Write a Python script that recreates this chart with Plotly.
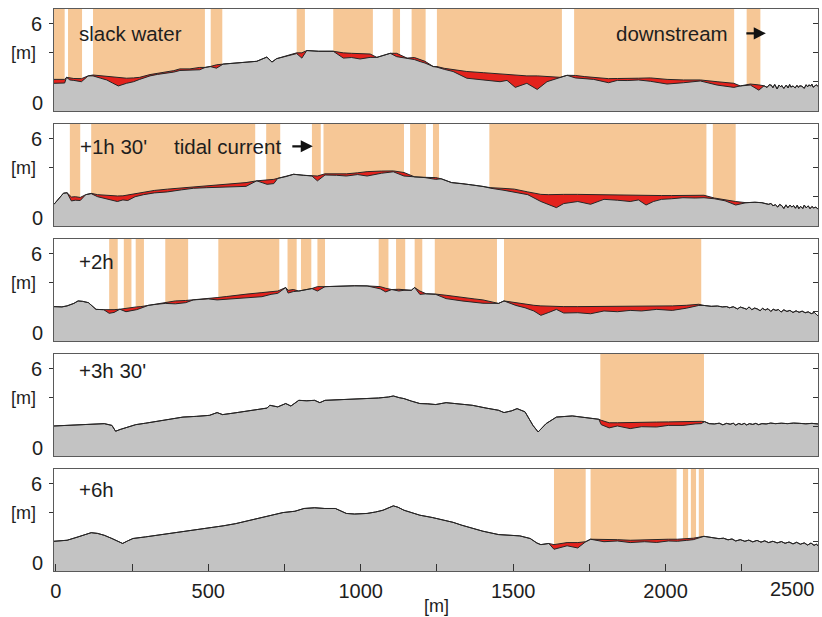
import plotly.graph_objects as go

# ---------------------------------------------------------------------------
# Longitudinal bed profiles at five tidal stages.
# Each panel: stations along the channel [m], bed elevation [m] and the
# reference surface above it (None where it coincides with the bed).
# Bands mark the reaches highlighted in orange.
# ---------------------------------------------------------------------------

X_RANGE = [-6, 2500]
Y_RANGE = [0, 7]
X_TICKS = [0, 250, 500, 750, 1000, 1250, 1500, 1750, 2000, 2250, 2500]
X_TICK_TEXT = ["0", "", "500", "", "1000", "", "1500", "", "2000", "", ""]
Y_TICKS_LEFT = [4, 6]
Y_TICK_TEXT_LEFT = ["", "6"]
Y_TICKS_RIGHT = [2, 4, 6]

P1_X = [-6, 29, 35, 46, 59, 84, 106, 122, 147, 167,
        186, 205, 232, 255, 275, 309, 333, 364, 387, 407,
        440, 472, 490, 506, 527, 549, 578, 604, 632, 659,
        692, 709, 724, 750, 768, 790, 807, 823, 862, 910,
        943, 970, 998, 1031, 1053, 1078, 1097, 1118, 1152, 1176,
        1195, 1211, 1238, 1250, 1274, 1303, 1348, 1402, 1457, 1480,
        1507, 1545, 1579, 1611, 1654, 1677, 1704, 1735, 1764, 1813,
        1842, 1874, 1911, 1950, 2005, 2059, 2114, 2169, 2224, 2245,
        2278, 2306, 2323, 2333, 2340, 2347, 2352, 2358, 2366, 2372,
        2378, 2381, 2388, 2396, 2402, 2407, 2411, 2418, 2425, 2431,
        2436, 2440, 2447, 2455, 2461, 2466, 2470, 2476, 2480, 2484,
        2490, 2495, 2500]
P1_BED = [1.90, 1.92, 2.31, 2.13, 2.10, 2.01, 2.41, 2.41, 2.25, 2.13,
          1.92, 1.72, 1.90, 2.01, 2.17, 2.41, 2.51, 2.59, 2.67, 2.78,
          2.83, 2.83, 2.99, 3.05, 2.94, 3.22, 3.27, 3.33, 3.37, 3.41,
          3.70, 3.36, 3.59, 3.72, 3.86, 3.94, 3.63, 4.15, 4.10, 4.10,
          3.63, 3.67, 3.57, 3.68, 3.68, 3.81, 3.96, 3.73, 3.63, 3.53,
          3.39, 3.29, 3.05, 3.01, 2.86, 2.71, 2.25, 2.13, 2.01, 2.10,
          1.62, 1.90, 1.48, 2.01, 2.31, 2.45, 2.27, 2.20, 2.17, 1.94,
          2.10, 2.09, 2.13, 2.04, 1.85, 1.94, 2.06, 1.78, 1.62, 1.72,
          1.78, 1.43, 1.73, 1.62, 1.80, 1.77, 1.60, 1.82, 1.51, 1.78,
          1.66, 1.75, 1.55, 1.78, 1.58, 1.82, 1.64, 1.72, 1.58, 1.76,
          1.62, 1.73, 1.70, 1.56, 1.80, 1.66, 1.79, 1.72, 1.84, 1.63,
          1.75, 1.80, 1.68]
P1_TOP = [2.17, 2.17, None, 2.25, 2.23, 2.22, None, 2.47, 2.42, 2.36,
          2.32, 2.29, 2.25, 2.27, 2.31, 2.50, 2.59, 2.66, 2.77, 2.89,
          2.89, 2.99, None, None, 3.17, None, None, None, None, None,
          None, None, None, None, None, 3.99, 3.99, None, None, None,
          3.99, 3.96, 3.94, 3.91, None, None, None, 3.96, None, 3.67,
          3.53, 3.41, None, 3.05, 2.93, 2.83, 2.71, 2.63, 2.54, 2.51,
          2.47, 2.41, 2.41, 2.36, None, None, 2.44, 2.36, 2.31, 2.22,
          2.23, 2.22, 2.25, 2.27, 2.17, 2.13, 2.13, 2.01, 1.90, None,
          1.85, 1.79, None, None, None, None, None, None, None, None,
          None, None, None, None, None, None, None, None, None, None,
          None, None, None, None, None, None, None, None, None, None,
          None, None, None]
P1_BANDS = [(-6, 29), (40, 86), (122, 489), (508, 546), (790, 817),
            (910, 1040), (1105, 1129), (1167, 1213), (1250, 1660),
            (1700, 2225), (2266, 2311)]

P2_X = [-6, 12, 25, 37, 51, 64, 80, 98, 116, 137,
        159, 181, 202, 220, 236, 260, 288, 323, 366, 412,
        452, 495, 538, 578, 624, 659, 693, 715, 728, 755,
        780, 813, 840, 858, 883, 921, 953, 990, 1021, 1068,
        1107, 1142, 1177, 1211, 1246, 1264, 1298, 1333, 1366, 1401,
        1427, 1470, 1504, 1548, 1591, 1617, 1642, 1666, 1712, 1754,
        1798, 1842, 1884, 1911, 1936, 1960, 1987, 2019, 2057, 2097,
        2126, 2160, 2195, 2230, 2264, 2293, 2316, 2330, 2338, 2346,
        2352, 2360, 2368, 2374, 2381, 2388, 2395, 2401, 2408, 2414,
        2420, 2426, 2432, 2437, 2443, 2450, 2455, 2461, 2468, 2474,
        2480, 2486, 2493, 2500]
P2_BED = [1.49, 1.96, 2.25, 2.28, 1.72, 1.77, 1.75, 2.15, 2.22, 2.01,
          1.89, 1.77, 1.68, 1.79, 1.75, 2.01, 2.15, 2.27, 2.34, 2.48,
          2.59, 2.63, 2.67, 2.72, 2.72, 3.10, 2.86, 2.91, 3.27, 3.39,
          3.55, 3.48, 3.43, 3.10, 3.50, 3.48, 3.43, 3.53, 3.43, 3.62,
          3.72, 3.43, 3.37, 3.32, 3.20, 3.24, 2.98, 2.91, 2.82, 2.72,
          2.59, 2.45, 2.34, 2.15, 1.68, 1.49, 1.26, 1.54, 1.68, 1.49,
          1.83, 1.77, 1.68, 1.79, 1.44, 1.68, 1.83, 1.87, 1.94, 1.92,
          1.94, 1.87, 1.73, 1.44, 1.60, 1.63, 1.60, 1.52, 1.49, 1.55,
          1.39, 1.46, 1.30, 1.48, 1.40, 1.20, 1.45, 1.25, 1.44, 1.30,
          1.40, 1.22, 1.43, 1.19, 1.35, 1.20, 1.44, 1.25, 1.38, 1.19,
          1.34, 1.24, 1.30, 1.15]
P2_TOP = [None, None, None, None, 1.99, 2.01, 1.96, None, 2.24, 2.15,
          2.11, 2.09, 2.06, 2.07, 2.13, 2.25, 2.34, 2.44, 2.53, 2.61,
          2.67, 2.74, 2.82, 2.89, 2.98, None, 3.13, 3.20, None, None,
          None, None, 3.46, 3.43, 3.58, 3.58, 3.58, 3.65, 3.73, 3.77,
          3.78, 3.67, None, 3.34, 3.32, None, None, None, None, None,
          2.63, 2.58, 2.53, 2.34, 2.17, 2.15, 2.17, 2.17, 2.17, 2.15,
          2.13, 2.11, 2.09, 2.09, 2.09, 2.09, 2.09, 2.09, 2.09, 2.10,
          2.11, 1.92, 1.79, 1.68, None, None, None, None, None, None,
          None, None, None, None, None, None, None, None, None, None,
          None, None, None, None, None, None, None, None, None, None,
          None, None, None, None]
P2_BANDS = [(46, 80), (116, 654), (690, 736), (840, 869), (878, 1142),
            (1162, 1214), (1237, 1257), (1422, 2134), (2155, 2230)]

P3_X = [-6, 20, 37, 59, 73, 88, 107, 132, 157, 175,
        191, 210, 230, 245, 265, 279, 304, 331, 359, 392,
        426, 451, 469, 500, 529, 559, 590, 627, 676, 706,
        728, 754, 762, 779, 797, 840, 858, 883, 931, 980,
        1021, 1064, 1082, 1102, 1125, 1142, 1166, 1177, 1194, 1215,
        1246, 1280, 1332, 1372, 1401, 1452, 1470, 1509, 1539, 1568,
        1591, 1617, 1642, 1666, 1712, 1754, 1798, 1842, 1884, 1921,
        1971, 2022, 2068, 2109, 2126, 2150, 2170, 2186, 2200, 2210,
        2222, 2236, 2245, 2255, 2266, 2274, 2283, 2292, 2301, 2310,
        2318, 2327, 2336, 2345, 2353, 2362, 2370, 2379, 2388, 2398,
        2408, 2418, 2428, 2438, 2448, 2458, 2468, 2478, 2488, 2495,
        2500]
P3_BED = [2.36, 2.34, 2.41, 2.58, 2.75, 2.72, 2.63, 2.17, 2.15, 1.90,
          1.96, 2.18, 2.01, 2.06, 2.15, 2.25, 2.45, 2.52, 2.58, 2.55,
          2.63, 2.82, 2.86, 2.89, 2.82, 2.86, 2.91, 2.96, 3.04, 3.20,
          3.27, 3.67, 3.29, 3.39, 3.43, 3.60, 3.43, 3.73, 3.77, 3.79,
          3.78, 3.58, 3.37, 3.53, 3.43, 3.48, 3.48, 3.67, 3.20, 3.24,
          3.20, 2.91, 2.75, 2.63, 2.59, 2.58, 2.75, 2.44, 2.28, 2.06,
          1.76, 1.96, 2.17, 1.92, 1.94, 1.87, 2.06, 2.01, 2.10, 2.06,
          2.17, 2.10, 2.25, 2.44, 2.44, 2.38, 2.40, 2.34, 2.36, 2.28,
          2.35, 2.20, 2.33, 2.27, 2.18, 2.34, 2.15, 2.26, 2.20, 2.08,
          2.24, 2.13, 2.22, 2.03, 2.18, 2.10, 2.16, 1.99, 2.14, 2.03,
          2.10, 1.96, 2.07, 1.97, 2.05, 1.94, 2.00, 1.88, 1.96, 1.82,
          1.72]
P3_TOP = [None, None, None, None, None, None, None, None, None, 2.13,
          2.15, None, 2.25, 2.27, 2.34, 2.36, None, None, 2.67, 2.75,
          2.78, None, None, None, 2.98, 3.05, 3.14, 3.22, 3.32, 3.39,
          3.43, None, 3.48, 3.53, None, None, 3.73, None, None, None,
          None, 3.73, 3.62, None, 3.55, 3.53, None, None, 3.43, None,
          3.22, 3.14, 2.98, 2.89, 2.82, None, None, 2.61, 2.52, 2.45,
          2.41, 2.38, 2.36, 2.36, 2.36, 2.36, 2.36, 2.36, 2.36, 2.38,
          2.41, 2.41, 2.45, 2.52, None, None, None, None, None, None,
          None, None, None, None, None, None, None, None, None, None,
          None, None, None, None, None, None, None, None, None, None,
          None, None, None, None, None, None, None, None, None, None,
          None]
P3_BANDS = [(175, 203), (223, 248), (262, 289), (359, 434), (533, 733),
            (760, 790), (804, 838), (858, 883), (1059, 1091), (1116, 1146),
            (1177, 1202), (1243, 1447), (1470, 2117)]

P4_X = [-6, 39, 73, 118, 159, 184, 196, 211, 227, 262,
        294, 331, 372, 417, 461, 504, 529, 547, 588, 624,
        657, 693, 702, 728, 754, 771, 797, 823, 849, 866,
        883, 931, 980, 1021, 1058, 1091, 1107, 1127, 1142, 1166,
        1194, 1220, 1246, 1280, 1323, 1366, 1411, 1452, 1470, 1495,
        1513, 1539, 1565, 1582, 1608, 1642, 1694, 1744, 1781, 1789,
        1815, 1842, 1884, 1921, 1971, 2009, 2057, 2097, 2117, 2128,
        2143, 2160, 2176, 2188, 2200, 2212, 2222, 2230, 2240, 2250,
        2258, 2266, 2275, 2286, 2296, 2305, 2316, 2330, 2345, 2360,
        2380, 2400, 2420, 2440, 2460, 2480, 2500]
P4_BED = [2.06, 2.10, 2.15, 2.17, 2.22, 2.10, 1.70, 1.82, 1.92, 2.15,
          2.25, 2.38, 2.48, 2.67, 2.72, 2.79, 2.98, 2.84, 2.96, 3.06,
          3.15, 3.29, 3.48, 3.37, 3.60, 3.43, 3.82, 3.79, 3.82, 3.66,
          3.82, 3.86, 3.91, 3.94, 3.98, 4.05, 4.12, 4.00, 3.94, 3.77,
          3.60, 3.58, 3.53, 3.66, 3.58, 3.48, 3.29, 3.14, 2.98, 3.10,
          3.25, 3.03, 2.10, 1.65, 2.22, 2.67, 2.75, 2.63, 2.52, 2.15,
          1.93, 2.06, 1.88, 2.01, 1.99, 2.10, 2.10, 2.20, 2.22, 2.36,
          2.22, 2.20, 2.25, 2.14, 2.24, 2.18, 2.25, 2.12, 2.23, 2.16,
          2.24, 2.13, 2.22, 2.17, 2.24, 2.15, 2.22, 2.20, 2.26, 2.22,
          2.25, 2.22, 2.26, 2.24, 2.21, 2.24, 2.20]
P4_TOP = [None] * 59 + [2.45,
          2.28, 2.28, 2.28, 2.30, 2.33, 2.34, 2.38, 2.38, 2.38, None,
          None, None, None, None, None, None, None, None, None, None,
          None, None, None, None, None, None, None, None, None, None,
          None, None, None, None, None, None, None]
P4_BANDS = [(1786, 2126)]

P5_X = [-6, 37, 73, 98, 116, 137, 159, 184, 219, 235,
        253, 294, 331, 372, 417, 461, 504, 549, 590, 637,
        676, 706, 745, 784, 814, 849, 882, 917, 936, 953,
        980, 1021, 1049, 1073, 1107, 1122, 1142, 1166, 1194, 1235,
        1280, 1303, 1332, 1367, 1401, 1452, 1490, 1522, 1556, 1578,
        1591, 1617, 1634, 1656, 1677, 1712, 1738, 1754, 1798, 1842,
        1884, 1931, 1971, 2009, 2039, 2068, 2091, 2126, 2145, 2160,
        2175, 2190, 2205, 2218, 2230, 2245, 2260, 2273, 2286, 2300,
        2313, 2325, 2338, 2352, 2366, 2380, 2392, 2405, 2418, 2430,
        2442, 2455, 2466, 2477, 2487, 2495, 2500]
P5_BED = [2.04, 2.11, 2.34, 2.53, 2.63, 2.58, 2.45, 2.23, 1.89, 2.06,
          2.23, 2.34, 2.45, 2.58, 2.68, 2.82, 2.96, 3.10, 3.25, 3.48,
          3.72, 3.86, 4.01, 4.10, 4.29, 4.34, 4.29, 4.29, 4.10, 3.95,
          3.91, 3.95, 4.05, 4.17, 4.47, 4.38, 4.17, 4.00, 3.83, 3.67,
          3.48, 3.34, 3.14, 2.91, 2.73, 2.50, 2.44, 2.41, 2.23, 1.92,
          1.81, 1.89, 1.49, 1.63, 1.73, 1.58, 2.01, 2.18, 2.01, 2.06,
          1.95, 2.01, 1.96, 2.06, 2.04, 2.10, 2.15, 2.38, 2.31, 2.27,
          2.22, 2.25, 2.14, 2.20, 2.06, 2.15, 2.04, 2.12, 2.00, 2.10,
          1.98, 2.07, 1.95, 2.04, 1.93, 2.02, 1.90, 1.99, 1.86, 1.97,
          1.84, 1.93, 1.78, 1.92, 1.76, 1.85, 1.72]
P5_TOP = [None] * 52 + [1.81, 1.89, 1.95, 1.95, None, None, 2.18, 2.15,
          2.11, 2.15, 2.18, 2.18, 2.18, 2.23, 2.25, None, None, None,
          None, None, None, None, None, None, None, None, None, None,
          None, None, None, None, None, None, None, None, None, None,
          None, None, None, None, None, None, None]
P5_BANDS = [(1634, 1738), (1754, 2036), (2057, 2074), (2083, 2100),
            (2109, 2126)]

PANELS = [
    dict(x=P1_X, bed=P1_BED, top=P1_TOP, bands=P1_BANDS),
    dict(x=P2_X, bed=P2_BED, top=P2_TOP, bands=P2_BANDS),
    dict(x=P3_X, bed=P3_BED, top=P3_TOP, bands=P3_BANDS),
    dict(x=P4_X, bed=P4_BED, top=P4_TOP, bands=P4_BANDS),
    dict(x=P5_X, bed=P5_BED, top=P5_TOP, bands=P5_BANDS),
]

# ---------------------------------------------------------------------------
# Styling
# ---------------------------------------------------------------------------
W, H = 822, 617
PANEL_TOPS = [9, 124, 239, 354, 469]   # px from the top of the page
PANEL_H = 102
ORANGE = "#f6c796"
RED = "#e3221c"
GRAY = "#c3c3c3"
OUTLINE = "#262626"
FRAME = "#5a5a5a"
FONT = "Liberation Sans, Arial, sans-serif"
TXT = "#1e1e1e"
TICK_FONT = dict(family=FONT, size=20, color=TXT)
LABEL_FONT = dict(family=FONT, size=20.5, color=TXT)
UNIT_FONT = dict(family=FONT, size=18, color=TXT)


def ax_id(letter, n):
    """Plotly axis id: 'x', 'x2', ... / 'y', 'y2', ..."""
    return letter if n == 1 else f"{letter}{n}"


def ax_key(letter, n):
    return f"{letter}axis" if n == 1 else f"{letter}axis{n}"


fig = go.Figure()
shapes = []
annotations = []
n_panels = len(PANELS)

for i, p in enumerate(PANELS, start=1):
    xs = p["x"]
    bed = p["bed"]
    top = [b if t is None else t for b, t in zip(bed, p["top"])]
    xa, ya = ax_id("x", i), ax_id("y", i)
    yr = ax_id("y", i + n_panels)
    close_x = [xs[-1], xs[0]]
    close_y = [Y_RANGE[0], Y_RANGE[0]]

    # eroded layer between reference surface and bed
    fig.add_trace(go.Scatter(x=xs + close_x, y=top + close_y, fill="toself",
                             fillcolor=RED, mode="lines", line=dict(width=0),
                             xaxis=xa, yaxis=ya, hoverinfo="skip",
                             showlegend=False))
    # bed body
    fig.add_trace(go.Scatter(x=xs + close_x, y=bed + close_y, fill="toself",
                             fillcolor=GRAY, mode="lines", line=dict(width=0),
                             xaxis=xa, yaxis=ya, hoverinfo="skip",
                             showlegend=False))
    fig.add_trace(go.Scatter(x=xs, y=top, mode="lines",
                             line=dict(color=OUTLINE, width=1),
                             xaxis=xa, yaxis=ya, hoverinfo="skip",
                             showlegend=False))
    fig.add_trace(go.Scatter(x=xs, y=bed, mode="lines",
                             line=dict(color=OUTLINE, width=1),
                             xaxis=xa, yaxis=ya, hoverinfo="skip",
                             showlegend=False))
    # carrier for the right-hand tick axis
    fig.add_trace(go.Scatter(x=[None], y=[None], xaxis=xa, yaxis=yr,
                             mode="lines", hoverinfo="skip",
                             showlegend=False))

    for x0, x1 in p["bands"]:
        shapes.append(dict(type="rect", xref=xa, yref=f"{ya} domain",
                           x0=x0, x1=x1, y0=0, y1=1, fillcolor=ORANGE,
                           line=dict(width=0), layer="below"))

    t = PANEL_TOPS[i - 1]
    dom = [1 - (t + PANEL_H) / H, 1 - t / H]
    last = i == n_panels

    fig.layout[ax_key("x", i)] = dict(
        domain=[0, 1], range=X_RANGE, anchor=ya, showgrid=False,
        zeroline=False, showline=True, mirror=True, linecolor=FRAME,
        linewidth=1,
        ticks="inside" if last else "", ticklen=7, tickcolor="#333333",
        tickvals=X_TICKS if last else [], ticktext=X_TICK_TEXT if last else [],
        showticklabels=last, ticklabelstandoff=2, tickfont=TICK_FONT)
    fig.layout[ax_key("y", i)] = dict(
        domain=dom, range=Y_RANGE, anchor=xa, showgrid=False, zeroline=False,
        showline=True, mirror=True, linecolor=FRAME, linewidth=1,
        ticks="outside", ticklen=4, tickcolor="#333333",
        tickvals=Y_TICKS_LEFT, ticktext=Y_TICK_TEXT_LEFT,
        ticklabelstandoff=3, tickfont=TICK_FONT)
    fig.layout[ax_key("y", i + n_panels)] = dict(
        overlaying=ya, side="right", anchor=xa, range=Y_RANGE,
        showgrid=False, zeroline=False, showline=False,
        ticks="inside", ticklen=5, tickcolor="#333333",
        tickvals=Y_TICKS_RIGHT, showticklabels=False)

    # unit label beside the axis and the zero label resting on the frame
    annotations.append(dict(text="[m]", xref="paper", yref=ya, x=-0.021,
                            y=4, xanchor="right", yanchor="middle",
                            showarrow=False, font=UNIT_FONT))
    annotations.append(dict(text="0", xref="paper", yref=ya, x=-0.0115,
                            y=0, xanchor="right", yanchor="bottom",
                            yshift=-5, showarrow=False, font=TICK_FONT))

panel_texts = [
    (1, "slack water", 70, 5.33, "left"),
    (1, "downstream", 2212, 5.33, "right"),
    (2, "+1h 30'", 73, 5.47, "left"),
    (2, "tidal current", 382, 5.47, "left"),
    (3, "+2h", 69, 5.44, "left"),
    (4, "+3h 30'", 69, 5.85, "left"),
    (5, "+6h", 70, 5.6, "left"),
]
for k, txt, x, y, anc in panel_texts:
    annotations.append(dict(text=txt, xref=ax_id("x", k), yref=ax_id("y", k),
                            x=x, y=y, xanchor=anc, yanchor="middle",
                            showarrow=False, font=LABEL_FONT))

# direction arrows
for k, x_tip, y, tail in [(1, 2329, 5.33, -21), (2, 843, 5.47, -22)]:
    annotations.append(dict(text="", xref=ax_id("x", k), yref=ax_id("y", k),
                            x=x_tip, y=y, ax=tail, ay=0, showarrow=True,
                            arrowhead=2, arrowsize=1.1, arrowwidth=2.2,
                            arrowcolor="#111111"))

# last x label kept inside the frame
annotations.append(dict(text="2500", xref=ax_id("x", n_panels), yref="paper",
                        x=X_TICKS[-1], y=1 - 589 / H, xanchor="right",
                        yanchor="middle", xshift=-1, showarrow=False,
                        font=TICK_FONT))
annotations.append(dict(text="[m]", xref="paper", yref="paper", x=0.5,
                        y=1 - 606 / H, xanchor="center", yanchor="middle",
                        showarrow=False, font=UNIT_FONT))

fig.update_layout(
    width=W, height=H, margin=dict(l=54, r=4, t=0, b=0),
    paper_bgcolor="white", plot_bgcolor="white",
    shapes=shapes, annotations=annotations, showlegend=False,
    font=dict(family=FONT, color=TXT),
)

fig.write_html("out.html")
